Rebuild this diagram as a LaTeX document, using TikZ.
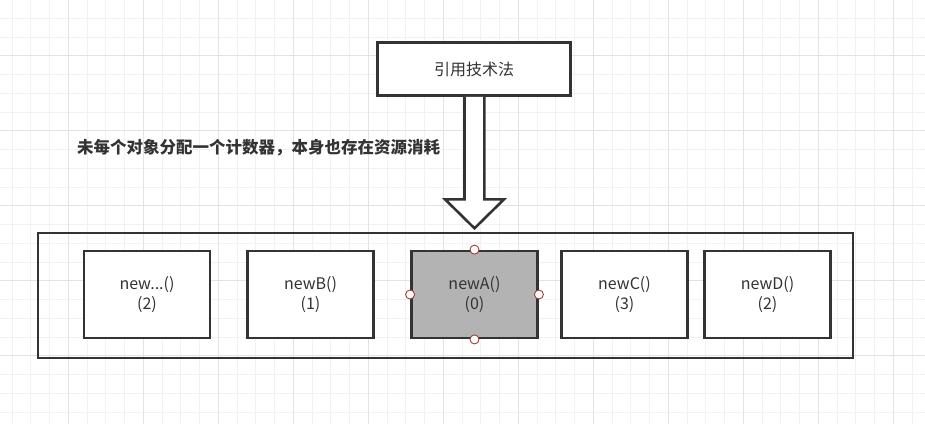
\documentclass[tikz,border=0pt]{standalone}
\usepackage{fontspec}
\setmainfont{Noto Sans CJK SC}
\definecolor{txt}{HTML}{333333}
\definecolor{edge}{HTML}{333333}
\definecolor{gridminor}{HTML}{F2F2F2}
\definecolor{gridmajor}{HTML}{E3E3E3}
\definecolor{fillgray}{HTML}{B3B3B3}
\definecolor{handle}{HTML}{A33A3A}
\begin{document}
\begin{tikzpicture}[x=1pt,y=-1pt,
  box/.style={draw=edge,line width=2.8pt,minimum width=126pt,minimum height=87pt,inner sep=0pt,
    align=center,font=\fontsize{16}{20}\selectfont,text=txt},
  handlept/.style={circle,draw=handle,fill=white,line width=0.9pt,minimum size=9pt,inner sep=0pt}]
\useasboundingbox (0,0) rectangle (925,424);
\fill[white] (0,0) rectangle (925,424);
% grid
\foreach \i in {0,...,49} {
  \pgfmathsetmacro{\gx}{68.3+(\i-3)*18.75}
  \draw[gridminor,line width=0.8pt] (\gx,0) -- (\gx,424);
}
\foreach \i in {0,...,23} {
  \pgfmathsetmacro{\gy}{55.7+(\i-2)*18.75}
  \draw[gridminor,line width=0.8pt] (0,\gy) -- (925,\gy);
}
\foreach \i in {-1,...,11} {
  \pgfmathsetmacro{\gx}{68.3+\i*75}
  \draw[gridmajor,line width=0.9pt] (\gx,0) -- (\gx,424);
}
\foreach \i in {0,...,4} {
  \pgfmathsetmacro{\gy}{55.7+\i*75}
  \draw[gridmajor,line width=0.9pt] (0,\gy) -- (925,\gy);
}
% top box
\node[box,fill=white,minimum width=193pt,minimum height=53pt] (top) at (474,69) {引用技术法};
% hollow arrow from the top box down to the container
\draw[edge,line width=2.6pt,fill=white,line join=miter]
  ([xshift=-9.5pt]top.south) -- (464.5,199.3) -- (445,199.3) -- (474.5,228.3) -- (504,199.3) -- (484.3,199.3) -- ([xshift=10.3pt]top.south);
% label
\node[anchor=west,text=txt,font=\bfseries\fontsize{16.5}{20}\selectfont,inner sep=0pt] (lbl) at (77,148)
  {未每个对象分配一个计数器，本身也存在资源消耗};
% outer container
\node[draw=edge,line width=2.8pt,minimum width=815pt,minimum height=125pt,inner sep=0pt] (outer) at (445.5,295.5) {};
% inner boxes
\node[box,fill=white] (n1) at (147,294.5) {new...()\\(2)};
\node[box,fill=white] (nB) at (310.5,294.5) {newB()\\(1)};
\node[box,fill=fillgray] (nA) at (474.5,294.5) {newA()\\(0)};
\node[box,fill=white] (nC) at (624.5,294.5) {newC()\\(3)};
\node[box,fill=white] (nD) at (767.5,294.5) {newD()\\(2)};
% selection handles
\node[handlept] (h1) at (nA.north) {};
\node[handlept] (h2) at (nA.south) {};
\node[handlept] (h3) at (nA.west) {};
\node[handlept] (h4) at (nA.east) {};
\end{tikzpicture}
\end{document}
